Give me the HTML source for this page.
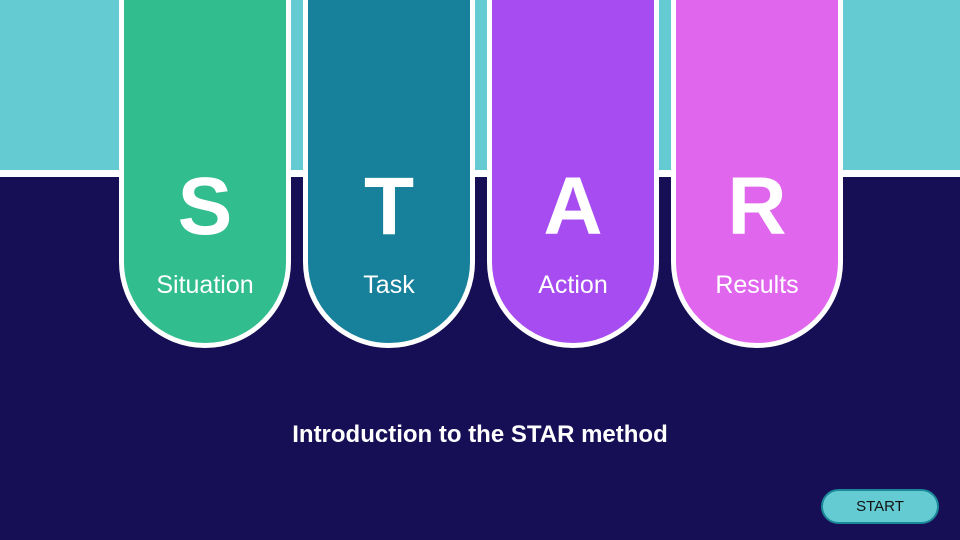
<!DOCTYPE html>
<html><head><style>
*{margin:0;padding:0;box-sizing:border-box}
body{width:960px;height:540px;overflow:hidden;position:relative;background:#170f56;font-family:"Liberation Sans",sans-serif}
.top{position:absolute;left:0;top:0;width:960px;height:170px;background:#65cbd2}
.line{position:absolute;left:0;top:170px;width:960px;height:7px;background:#fff}
.pill{position:absolute;top:-100px;width:172px;height:448px;border:5px solid #fff;border-radius:0 0 86px 86px;color:#fff;text-align:center}
.pill .l{position:absolute;top:254px;left:0;width:100%;font-size:82px;font-weight:bold;line-height:96px}
.pill .t{position:absolute;top:365px;left:0;width:100%;font-size:25px;line-height:30px}
.title{position:absolute;top:420px;left:0;width:960px;text-align:center;color:#fff;font-weight:bold;font-size:24px;line-height:30px}
.btn{position:absolute;left:821px;top:489px;width:118px;height:35px;background:#65cbd2;border:2px solid #1a8898;border-radius:18px;text-align:center;font-size:15px;line-height:31px;color:#111}
</style></head><body>
<div class="top"></div><div class="line"></div>
<div class="pill" style="left:119px;background:#31bd8e"><div class="l">S</div><div class="t">Situation</div></div>
<div class="pill" style="left:303px;background:#17809b"><div class="l">T</div><div class="t">Task</div></div>
<div class="pill" style="left:487px;background:#a64cf0"><div class="l">A</div><div class="t">Action</div></div>
<div class="pill" style="left:671px;background:#e066ee"><div class="l">R</div><div class="t">Results</div></div>
<div class="title">Introduction to the STAR method</div>
<div class="btn">START</div>
</body></html>
